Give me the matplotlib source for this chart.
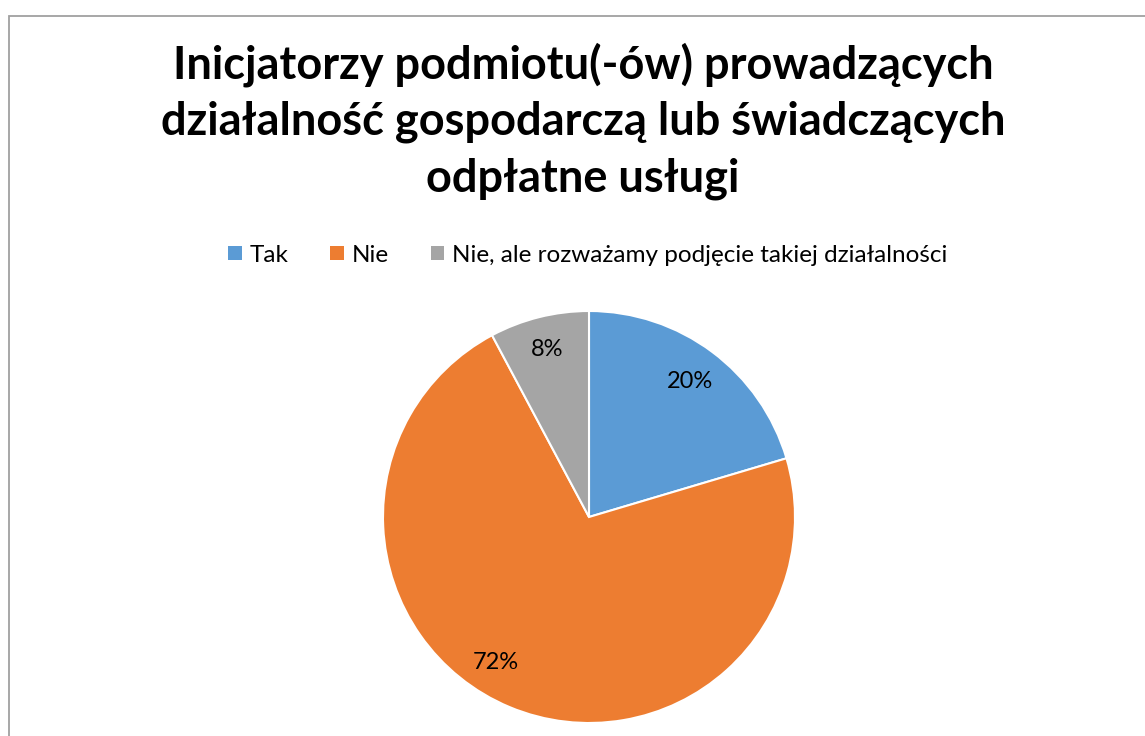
import matplotlib
matplotlib.use('Agg')
import matplotlib.pyplot as plt
from matplotlib.patches import Rectangle, Patch
import numpy as np

# data
categories = ['Tak', 'Nie', 'Nie, ale rozważamy podjęcie takiej działalności']
shares = [20.4, 71.8, 7.8]
colors = ['#5B9BD5', '#ED7D31', '#A5A5A5']
title = 'Inicjatorzy podmiotu(-ów) prowadzących\ndziałalność gospodarczą lub świadczących\nodpłatne usługi'

plt.rcParams['font.family'] = ['Lato', 'DejaVu Sans']

W, H = 1145, 736
fig = plt.figure(figsize=(W / 100, H / 100), dpi=100)

# chart frame (cut off at right and bottom)
fig.patches.append(Rectangle((8.5 / W, -0.05), 1.2, (H - 15.5) / H + 0.05,
                             transform=fig.transFigure, fill=False,
                             edgecolor='#A0A0A0', linewidth=1.3))

fig.text(583 / W, 1 - 42 / H, title, ha='center', va='top', fontsize=32.5,
         fontweight='bold', linespacing=1.42, color='black')

cx, cy, r = 589, 517, 206
ax = fig.add_axes([(cx - r) / W, (H - cy - r) / H, 2 * r / W, 2 * r / H])
wedges, _ = ax.pie(shares, colors=colors, startangle=90, counterclock=False,
                   wedgeprops=dict(edgecolor='white', linewidth=1.5))
ax.set_xlim(-1, 1)
ax.set_ylim(-1, 1)
ax.set_aspect('equal')

# percent labels (Excel "best fit" placement)
shift = [0, -10, 0]
dist = [0.82, 0.84, 0.84]
for w, s, sh, d in zip(wedges, shares, shift, dist):
    ang = np.deg2rad((w.theta1 + w.theta2) / 2 + sh)
    ax.text(d * np.cos(ang), d * np.sin(ang), f'{s:.0f}%', ha='center',
            va='center', fontsize=17)

handles = [Patch(facecolor=c, edgecolor='none') for c in colors]
fig.legend(handles, categories, loc='center', bbox_to_anchor=(588 / W, 1 - 255 / H),
           ncol=3, frameon=False, fontsize=17.5, handlelength=0.55, handleheight=0.55,
           handletextpad=0.35, columnspacing=1.7)

fig.savefig('out.png', dpi=100, facecolor='white')
